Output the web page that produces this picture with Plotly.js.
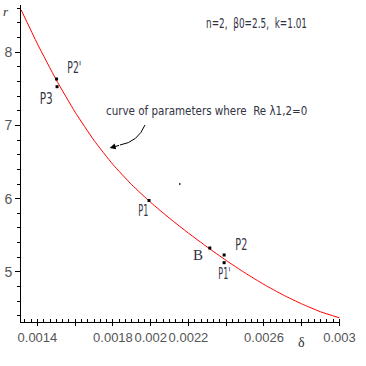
<!DOCTYPE html>
<html>
<head>
<meta charset="utf-8">
<script src="https://cdn.plot.ly/plotly-3.0.1.min.js"></script>
<style>html,body{margin:0;padding:0;background:#fff;}#plot{width:366px;height:366px;}</style>
</head>
<body>
<div id="plot"></div>
<script>
// Curve of parameters where Re lambda_{1,2} = 0
const curveDelta = [0.001314, 0.0014, 0.0015, 0.0016, 0.0017, 0.0018, 0.0019, 0.002, 0.0021, 0.0022, 0.0023, 0.0024, 0.0025, 0.0026, 0.0027, 0.0028, 0.0029, 0.003];
const curveR     = [8.573, 8.111, 7.619, 7.179, 6.794, 6.466, 6.189, 5.949, 5.732, 5.530, 5.339, 5.157, 4.987, 4.830, 4.689, 4.565, 4.457, 4.375];

// Marked points
const pointNames = ["P2'", "P3", "P1", "B", "P2", "P1'"];
const pointDelta = [0.0015013, 0.001504, 0.001991, 0.002313, 0.002389, 0.002389];
const pointR     = [7.632, 7.527, 5.975, 5.327, 5.232, 5.127];

// stray dot in the picture
const strayDelta = [0.002154];
const strayR     = [6.20];

// Tick labels
const xTickVals = [0.0014, 0.0016, 0.0018, 0.002, 0.0022, 0.0024, 0.0026, 0.0028, 0.003];
const xTickText = ['0.0014', '', '0.0018', '0.002', '0.0022', '', '0.0026', '', '0.003'];
const yTickVals = [5, 6, 7, 8];
const yTickText = ['5', '6', '7', '8'];

// label offsets (pixels) relative to each point — styling only
const labelShift = [[18, 11], [-11, -12], [-6, -11], [-12, -7], [17, 10], [0, -11]];
// target text widths (px) to imitate the very narrow original typeface
const labelWidth = [14, 13, 10, 0, 12, 12];

const sans = 'DejaVu Sans, sans-serif';
const cond = 'DejaVu Sans Condensed, DejaVu Sans, sans-serif';
const txtColor = '#333344';

const traces = [
  {x: curveDelta, y: curveR, mode: 'lines', type: 'scatter',
   line: {color: '#ff0000', width: 1, shape: 'spline', smoothing: 0.5}, hoverinfo: 'skip'},
  {x: pointDelta, y: pointR, mode: 'markers', type: 'scatter',
   marker: {symbol: 'square', size: 3, color: '#000'}},
  {x: strayDelta, y: strayR, mode: 'markers', type: 'scatter',
   marker: {symbol: 'square', size: 1.5, color: '#000'}}
];

const squeeze = [];
const annotations = pointNames.map((name, i) => {
  squeeze.push(labelWidth[i]);
  return {
    x: pointDelta[i], y: pointR[i], xref: 'x', yref: 'y', text: name, showarrow: false,
    xanchor: 'center', yanchor: 'middle',
    xshift: labelShift[i][0], yshift: labelShift[i][1],
    font: name === 'B' ? {family: 'Liberation Serif, serif', size: 15, color: txtColor}
                       : {family: sans, size: 15, color: txtColor}
  };
});

annotations.push(
  {xref: 'paper', yref: 'paper', x: 0.7367, y: 0.943, xanchor: 'center', yanchor: 'middle', showarrow: false,
   text: 'n=2,  β0=2.5,  k=1.01', font: {family: sans, size: 14, color: txtColor}},
  {xref: 'paper', yref: 'paper', x: 0.583, y: 0.6656, xanchor: 'center', yanchor: 'middle', showarrow: false,
   text: 'curve of parameters where  Re λ1,2=0',
   font: {family: cond, size: 11.5, color: txtColor}},
  {xref: 'x', yref: 'y', x: 0.0017825, y: 6.691, ax: 11, ay: -3, axref: 'pixel', ayref: 'pixel',
   text: '', showarrow: true, arrowhead: 2, arrowsize: 1.2, arrowwidth: 1, arrowcolor: '#000'},
  {xref: 'paper', yref: 'paper', x: -0.047, y: 0.978, xanchor: 'center', yanchor: 'middle', showarrow: false,
   text: '<i>r</i>', font: {family: 'Liberation Serif, serif', size: 13, color: '#333'}},
  {xref: 'paper', yref: 'paper', x: 0.879, y: -0.066, xanchor: 'center', yanchor: 'middle', showarrow: false,
   text: 'δ', font: {family: 'Liberation Serif, serif', size: 14, color: '#333'}}
);
squeeze.push(101, 0, 0, 0, 0);

const layout = {
  width: 366, height: 366,
  margin: {l: 21, r: 26, t: 5, b: 44, pad: 0},
  paper_bgcolor: '#fff', plot_bgcolor: '#fff',
  showlegend: false,
  xaxis: {
    range: [0.001313, 0.0030027], showline: true, linecolor: '#000', linewidth: 1,
    showgrid: false, zeroline: false, tickmode: 'array', tickvals: xTickVals, ticktext: xTickText,
    ticks: 'outside', ticklen: 3, tickcolor: '#000', tickangle: 0,
    tickfont: {family: 'Liberation Sans, Arial, sans-serif', size: 13, color: '#555'},
    minor: {tickmode: 'linear', tick0: 0.0014, dtick: 0.0001 / 3, ticks: 'inside', ticklen: 3, tickcolor: '#000', showgrid: false}
  },
  yaxis: {
    range: [4.318, 8.641], showline: true, linecolor: '#000', linewidth: 1,
    showgrid: false, zeroline: false, tickmode: 'array', tickvals: yTickVals, ticktext: yTickText,
    ticks: 'outside', ticklen: 5, tickcolor: '#000',
    tickfont: {family: 'Liberation Sans, Arial, sans-serif', size: 14, color: '#555'},
    minor: {tickmode: 'linear', tick0: 5, dtick: 0.2, ticks: 'outside', ticklen: 3, tickcolor: '#000', showgrid: false}
  },
  shapes: [
    {type: 'path', xref: 'paper', yref: 'paper',
     path: 'M 0.3887 0.6215 Q 0.3668 0.5678 0.3103 0.5584',
     line: {color: '#000', width: 1}}
  ],
  annotations: annotations
};

Plotly.newPlot('plot', traces, layout, {displayModeBar: false, staticPlot: true}).then(function () {
  squeeze.forEach(function (w, i) {
    if (!w) return;
    const t = document.querySelector('g.annotation[data-index="' + i + '"] text.annotation-text');
    if (!t) return;
    t.setAttribute('textLength', w);
    t.setAttribute('lengthAdjust', 'spacingAndGlyphs');
  });
});
</script>
</body>
</html>
